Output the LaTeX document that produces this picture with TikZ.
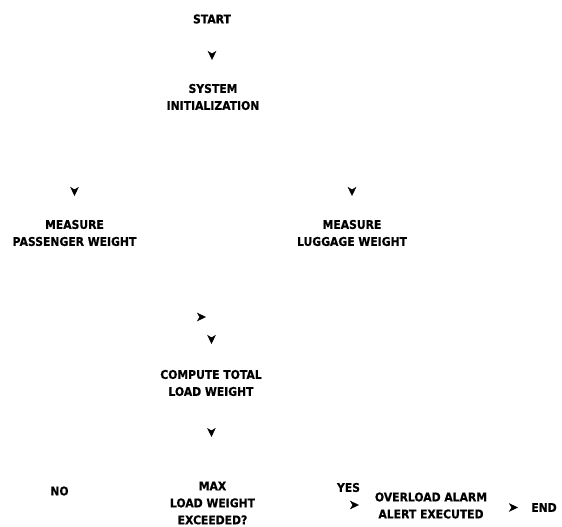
\documentclass[tikz,border=0pt]{standalone}
\usepackage{fontspec}
\newfontfamily\chartfont{DejaVu Sans}[FakeStretch=0.9,BoldFeatures={FakeBold=0.6}]
\usepackage{tikz}
\usetikzlibrary{calc,decorations.markings,arrows.meta}
\tikzset{
  steptext/.style={font=\chartfont\bfseries\fontsize{12}{17}\selectfont,align=center,inner sep=0pt},
  headonly/.style={draw=none,postaction={decorate,decoration={markings,mark=at position 1 with {\arrow{Stealth[length=9pt,width=8.5pt,inset=2.5pt]}}}}}
}
\begin{document}
\begin{tikzpicture}[x=1pt,y=-1pt]
  \useasboundingbox (0,0) rectangle (562,527);
  % steps
  \node[steptext] (start) at (212,19) {START};
  \node[steptext] (init) at (213,97) {SYSTEM\\INITIALIZATION};
  \node[steptext] (passenger) at (74.5,233) {MEASURE\\PASSENGER WEIGHT};
  \node[steptext] (luggage) at (352,233) {MEASURE\\LUGGAGE WEIGHT};
  \node[steptext] (total) at (211,383) {COMPUTE TOTAL\\LOAD WEIGHT};
  \node[steptext] (check) at (212.5,503) {MAX\\LOAD WEIGHT\\EXCEEDED?};
  \node[steptext] (alarm) at (431,505.5) {OVERLOAD ALARM\\ALERT EXECUTED};
  \node[steptext] (finish) at (544,507.5) {END};
  % branch labels
  \node[steptext] (no) at (59.5,491) {NO};
  \node[steptext] (yes) at (348.5,487.5) {YES};
  % arrow tips
  \coordinate (tinit) at (212,60);
  \coordinate (tpass) at (74.5,196);
  \coordinate (tlugg) at (352,196);
  \coordinate (tleft) at (206,317);
  \coordinate (tright) at (211.5,344);
  \coordinate (tcheck) at (211.5,437);
  \coordinate (talarm) at (359,505);
  \coordinate (tfinish) at (518,507.5);
  % connectors
  \draw[headonly] (start) -- (tinit);
  \draw[headonly] (init) -| (tpass);
  \draw[headonly] (init) -| (tlugg);
  \draw[headonly] (passenger) |- (tleft);
  \draw[headonly] (luggage) -- (luggage |- 0,300) -| (tright);
  \draw[headonly] (total) -- (tcheck);
  \draw[headonly] (check.east |- talarm) -- (talarm);
  \draw[headonly] (alarm.east |- tfinish) -- (tfinish);
\end{tikzpicture}
\end{document}
